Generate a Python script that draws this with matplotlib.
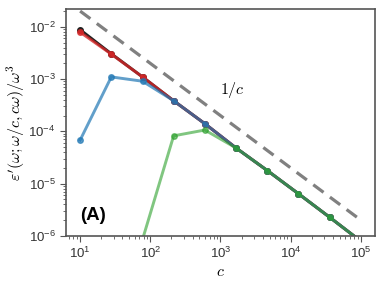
import numpy as np
import matplotlib; matplotlib.use('Agg')
import matplotlib.pyplot as plt

plt.rcParams['font.family'] = ['Liberation Sans', 'DejaVu Sans']
plt.rcParams['mathtext.fontset'] = 'cm'

# c values (log-spaced 10 .. 1e5)
c = [10, 27.8, 77.4, 215, 599, 1668, 4642, 12915, 35938, 100000]
dark  = [8.8e-3, 3.05e-3, 1.1e-3, 3.85e-4, 1.4e-4, 4.8e-5, 1.78e-5, 6.4e-6, 2.27e-6, 7.9e-7]
red   = [7.9e-3, 3.0e-3, 1.1e-3, 3.85e-4, 1.4e-4, 4.8e-5, 1.78e-5, 6.4e-6, 2.27e-6, 7.9e-7]
blue  = [6.8e-5, 1.1e-3, 9.1e-4, 3.85e-4, 1.4e-4, 4.8e-5, 1.78e-5, 6.4e-6, 2.27e-6, 7.9e-7]
green = [1e-9, 3e-8, 8.5e-7, 8.2e-5, 1.06e-4, 4.8e-5, 1.78e-5, 6.4e-6, 2.27e-6, 7.9e-7]
ref_c = [10, 100000]
ref_amp = 0.2  # dashed guide 0.2/c

fig = plt.figure(figsize=(3.84, 2.88), dpi=100)
ax = fig.add_axes([0.172, 0.181, 0.805, 0.788])

kw = dict(marker='o', ms=4, lw=2.1)
ax.plot(c, dark, color='#222222', **kw)
ax.plot(c, red, color='#d62728', alpha=0.8, **kw)
ax.plot(c, blue, color='#1f77b4', alpha=0.7, **kw)
ax.plot(c, green, color='#2ca02c', alpha=0.6, **kw)
ax.plot(ref_c, [ref_amp / v for v in ref_c], color='#808080', lw=2.3, ls=(0, (4, 2.5)))

ax.set_xscale('log'); ax.set_yscale('log')
ax.set_xlim(6.3, 1.6e5)
ax.set_ylim(1e-6, 2.2e-2)

ax.text(1480, 6.1e-4, r'$1/c$', fontsize=11.5, ha='center', va='center')
ax.text(0.045, 0.088, '(A)', transform=ax.transAxes, fontsize=13.5,
        fontweight='bold', va='center', ha='left')

ax.set_xlabel(r'$c$', fontsize=11.5, labelpad=2)
ax.set_ylabel(r"$\varepsilon'(\omega;\omega/c,c\omega)/\omega^3$", fontsize=11.5, labelpad=1)

for s in ax.spines.values():
    s.set_color('#555555'); s.set_linewidth(1.2)
ax.tick_params(which='both', direction='out', colors='#555555', labelcolor='#333333',
               labelsize=9.5, top=False, right=False)
ax.tick_params(which='major', length=4)
ax.tick_params(which='minor', length=2)

fig.savefig('out.png', dpi=100)
